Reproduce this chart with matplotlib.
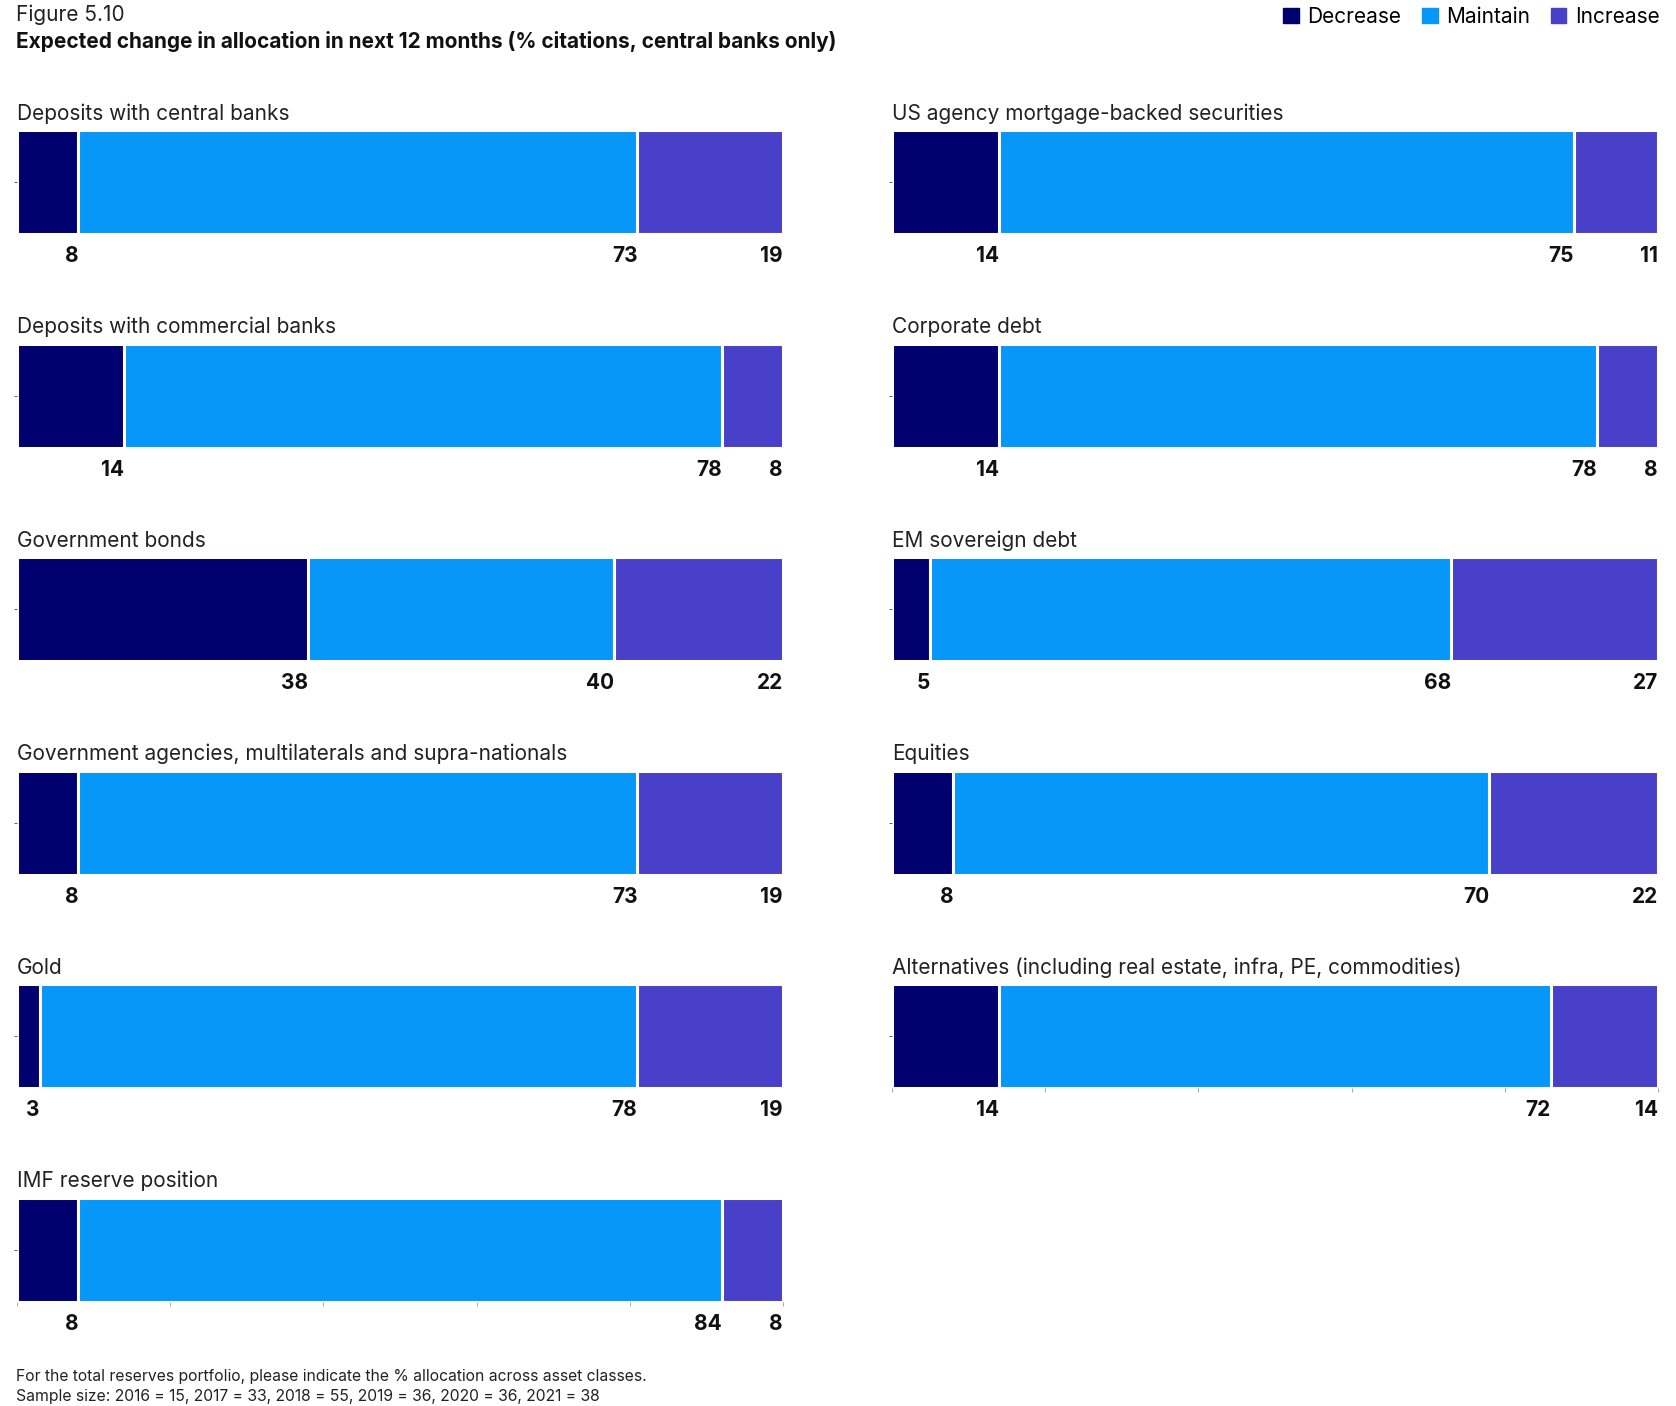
import matplotlib.pyplot as plt
import numpy as np

plt.rcParams['font.family'] = ['Inter', 'DejaVu Sans']

# Left column
left_titles = [
    "Deposits with central banks",
    "Deposits with commercial banks",
    "Government bonds",
    "Government agencies, multilaterals and supra-nationals",
    "Gold",
    "IMF reserve position",
]
left_decrease = [8, 14, 38, 8, 3, 8]
left_maintain = [73, 78, 40, 73, 78, 84]
left_increase = [19, 8, 22, 19, 19, 8]

# Right column
right_titles = [
    "US agency mortgage-backed securities",
    "Corporate debt",
    "EM sovereign debt",
    "Equities",
    "Alternatives (including real estate, infra, PE, commodities)",
]
right_decrease = [14, 14, 5, 8, 14]
right_maintain = [75, 78, 68, 70, 72]
right_increase = [11, 8, 27, 22, 14]

series_names = ["Decrease", "Maintain", "Increase"]
colors = ["#00006e", "#0797f8", "#4840c9"]

W, H = 1676, 1406
fig = plt.figure(figsize=(W / 100, H / 100), dpi=100)

col_x = [17 / W, 892 / W]
ax_w = 766 / W
bar_h = 104 / H
row_top0 = 130
row_step = 213.5


def draw_panel(ax, title, vals, last):
    left = 0
    for v, c in zip(vals, colors):
        ax.barh([0], [v], left=left, height=1.0, color=c,
                edgecolor="white", linewidth=2.2)
        left += v
        ax.text(left, -0.12, str(v), transform=ax.get_xaxis_transform(),
                ha="right", va="top", fontsize=15, fontweight="bold",
                color="#111111")
    ax.set_xlim(0, 100)
    ax.set_ylim(-0.5, 0.5)
    for s in ax.spines.values():
        s.set_visible(False)
    ax.set_yticks([0])
    ax.set_yticklabels([])
    ax.tick_params(axis="y", length=2, width=0.6, color="#444444")
    if last:
        ax.set_xticks(np.arange(0, 101, 20))
        ax.set_xticklabels([])
        ax.tick_params(axis="x", length=3, width=0.6, color="#999999")
    else:
        ax.set_xticks([])
    ax.text(0, 1.06, title, transform=ax.transAxes, ha="left", va="bottom",
            fontsize=15, color="#222222")


for col, (titles, d, m, inc) in enumerate([
        (left_titles, left_decrease, left_maintain, left_increase),
        (right_titles, right_decrease, right_maintain, right_increase)]):
    n = len(titles)
    for i in range(n):
        top = row_top0 + i * row_step
        y0 = 1 - (top + 104) / H
        ax = fig.add_axes([col_x[col], y0, ax_w, bar_h])
        draw_panel(ax, titles[i], [d[i], m[i], inc[i]], i == n - 1)

# header
fig.text(16 / W, 1 - 15 / H, "Figure 5.10", ha="left", va="center",
         fontsize=15, color="#222222")
fig.text(16 / W, 1 - 42 / H,
         "Expected change in allocation in next 12 months (% citations, central banks only)",
         ha="left", va="center", fontsize=15, fontweight="bold", color="#111111")

# legend
handles = [plt.Rectangle((0, 0), 1, 1, color=c) for c in colors]
fig.legend(handles, series_names, loc="upper right",
           bbox_to_anchor=(1 - 4 / W, 1 + 6 / H), ncol=3, frameon=False,
           fontsize=15, handlelength=0.75, handleheight=0.75,
           handletextpad=0.4, columnspacing=1.0, borderaxespad=0.2)

# footnotes
fig.text(16 / W, 1 - 1377 / H,
         "For the total reserves portfolio, please indicate the % allocation across asset classes.",
         ha="left", va="center", fontsize=11.3, color="#222222")
fig.text(16 / W, 1 - 1396 / H,
         "Sample size: 2016 = 15, 2017 = 33, 2018 = 55, 2019 = 36, 2020 = 36, 2021 = 38",
         ha="left", va="center", fontsize=11.3, color="#222222")

fig.savefig("out.png", dpi=100)
